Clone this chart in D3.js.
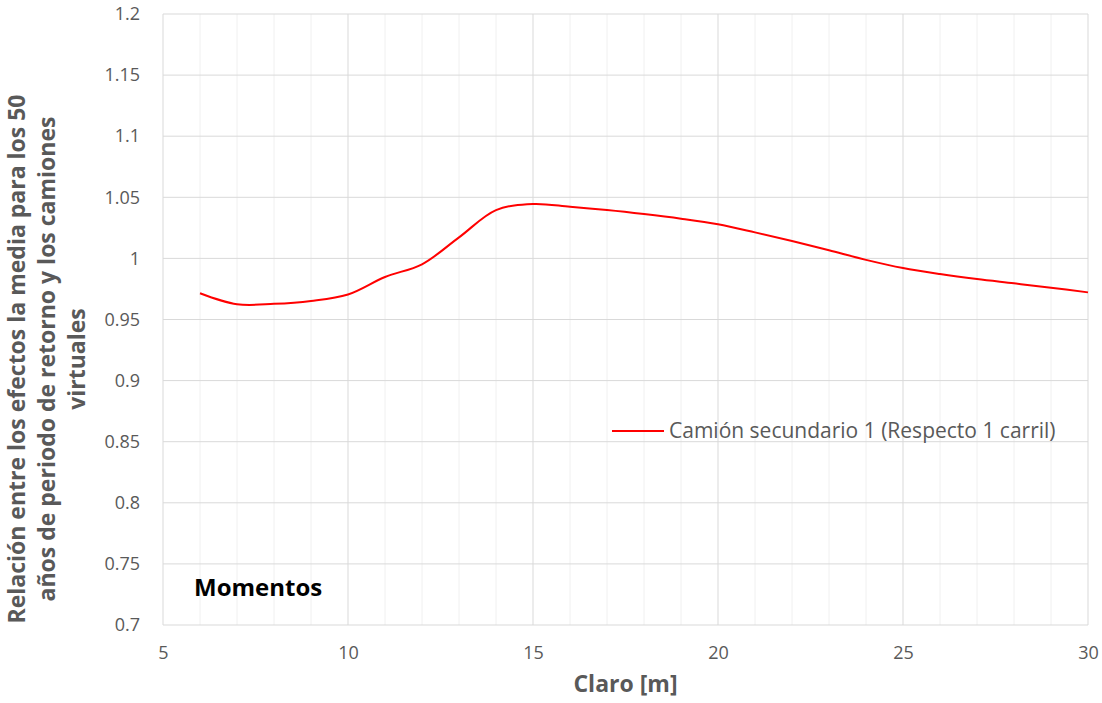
<!DOCTYPE html>
<html>
<head>
<meta charset="utf-8">
<script src="https://cdn.jsdelivr.net/npm/d3@7"></script>
<style>
  body { margin: 0; background: #fff; }
  text { font-family: "Open Sans", Lato, sans-serif; }
</style>
</head>
<body>
<div id="chart"></div>
<script>
// Claro [m] vs relación de efectos
const claro = [6, 7, 8, 9, 10, 11, 12, 13, 14, 15, 16, 17, 18, 19, 20, 21, 22, 23, 24, 25, 26, 27, 28, 29, 30];
const relacion = [0.9715, 0.9625, 0.9628, 0.9652, 0.9705, 0.9848, 0.9952, 1.0172, 1.0395, 1.0445, 1.0423, 1.0396, 1.0363, 1.0325, 1.0279, 1.0213, 1.0142, 1.0066, 0.9988, 0.9921, 0.9872, 0.9831, 0.9796, 0.9760, 0.9722];
const xTicks = [5, 10, 15, 20, 25, 30];
const yTicks = [0.7, 0.75, 0.8, 0.85, 0.9, 0.95, 1, 1.05, 1.1, 1.15, 1.2];
const seriesName = 'Camión secundario 1 (Respecto 1 carril)';

const W = 1102, H = 703;
const margin = { top: 14, right: 14, bottom: 78, left: 163 };

const svg = d3.select('#chart')
    .append('svg')
    .attr('width', W)
    .attr('height', H);

const x = d3.scaleLinear()
    .domain([5, 30])
    .range([margin.left, W - margin.right]);

const y = d3.scaleLinear()
    .domain([0.7, 1.2])
    .range([H - margin.bottom, margin.top]);

// Minor vertical grid (every 1)
svg.append('g')
    .selectAll('line')
    .data(d3.range(5, 31).filter(d => d % 5 !== 0))
    .enter()
    .append('line')
    .attr('x1', d => x(d))
    .attr('x2', d => x(d))
    .attr('y1', y(0.7))
    .attr('y2', y(1.2))
    .attr('stroke', '#f0f0f0')
    .attr('stroke-width', 1);

// Horizontal grid
svg.append('g')
    .selectAll('line')
    .data(yTicks)
    .enter()
    .append('line')
    .attr('x1', x(5))
    .attr('x2', x(30))
    .attr('y1', d => y(d))
    .attr('y2', d => y(d))
    .attr('stroke', '#d9d9d9')
    .attr('stroke-width', 1);

// Major vertical grid
svg.append('g')
    .selectAll('line')
    .data(xTicks)
    .enter()
    .append('line')
    .attr('x1', d => x(d))
    .attr('x2', d => x(d))
    .attr('y1', y(0.7))
    .attr('y2', y(1.2))
    .attr('stroke', '#d9d9d9')
    .attr('stroke-width', 1);

// Axes (labels only)
const yAxis = svg.append('g')
    .attr('transform', `translate(${x(5)},0)`)
    .call(d3.axisLeft(y).tickValues(yTicks).tickSize(0).tickPadding(23).tickFormat(d => String(+d.toFixed(2))));
yAxis.select('.domain').remove();
yAxis.selectAll('text')
    .style('font-size', '18px')
    .attr('fill', '#595959');

const xAxis = svg.append('g')
    .attr('transform', `translate(0,${y(0.7)})`)
    .call(d3.axisBottom(x).tickValues(xTicks).tickSize(0).tickPadding(21));
xAxis.select('.domain').remove();
xAxis.selectAll('text')
    .style('font-size', '18px')
    .attr('fill', '#595959');

// Series line
const line = d3.line()
    .x((d, i) => x(claro[i]))
    .y(d => y(d))
    .curve(d3.curveCatmullRom.alpha(0.5));

svg.append('path')
    .datum(relacion)
    .attr('d', line)
    .attr('fill', 'none')
    .attr('stroke', '#ff0000')
    .attr('stroke-width', 2);

// Legend
svg.append('line')
    .attr('x1', 612)
    .attr('x2', 664)
    .attr('y1', 431)
    .attr('y2', 431)
    .attr('stroke', '#ff0000')
    .attr('stroke-width', 2);

svg.append('text')
    .attr('x', 669)
    .attr('y', 438)
    .style('font-size', '21px')
    .attr('fill', '#595959')
    .text(seriesName);

// Annotation
svg.append('text')
    .attr('x', 194)
    .attr('y', 596)
    .style('font-size', '24px')
    .style('font-weight', 'bold')
    .attr('fill', '#000')
    .text('Momentos');

// Axis titles
svg.append('text')
    .attr('x', (x(5) + x(30)) / 2)
    .attr('y', 692)
    .attr('text-anchor', 'middle')
    .style('font-size', '23px')
    .style('font-weight', 'bold')
    .attr('fill', '#595959')
    .text('Claro [m]');

const yTitle = ['Relación entre los efectos la media para los 50',
                'años de periodo de retorno y los camiones',
                'virtuales'];

svg.append('g')
    .attr('transform', 'translate(25,359) rotate(-90)')
    .selectAll('text')
    .data(yTitle)
    .enter()
    .append('text')
    .attr('x', 0)
    .attr('y', (d, i) => i * 30)
    .attr('text-anchor', 'middle')
    .style('font-size', '23px')
    .style('font-weight', 'bold')
    .attr('fill', '#595959')
    .text(d => d);
</script>
</body>
</html>
